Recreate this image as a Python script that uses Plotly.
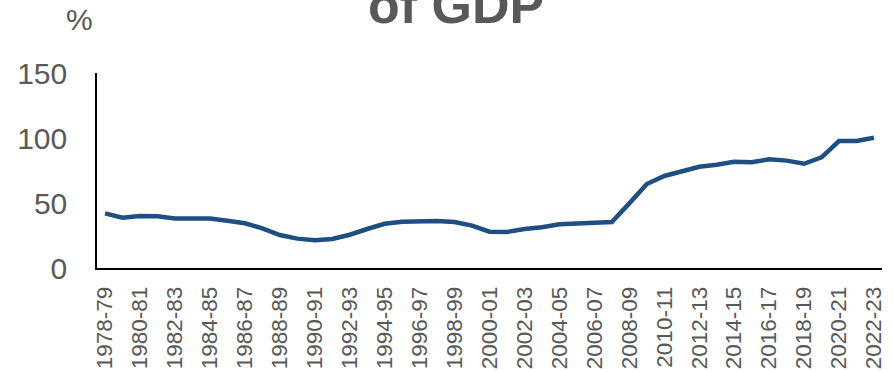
import plotly.graph_objects as go

# Financial years 1978-79 .. 2022-23
years = [f"{y}-{str(y + 1)[-2:]}" for y in range(1978, 2023)]

# Share of GDP, per cent
values = [
    42.0, 38.7, 40.0, 39.8, 38.0, 38.2, 38.0, 36.4, 34.4, 30.5,
    25.4, 22.6, 21.3, 22.3, 25.6, 30.0, 34.0, 35.6, 36.2, 36.2,
    35.4, 32.6, 27.9, 27.7, 30.0, 31.3, 33.6, 34.1, 34.6, 35.4,
    49.7, 64.6, 70.8, 74.1, 77.9, 79.5, 81.8, 81.3, 83.6, 82.6,
    80.2, 85.1, 97.7, 97.7, 100.2,
]

y_ticks = [0, 50, 100, 150]
x_ticks = years[::2]

grey = "#595959"
font_family = "Liberation Sans, Arial, sans-serif"

fig = go.Figure()
fig.add_trace(go.Scatter(
    x=years, y=values, mode="lines",
    line=dict(color="#1F4E82", width=4.5),
    hoverinfo="skip",
))

fig.update_layout(
    width=893, height=372,
    margin=dict(l=97, r=11, t=73, b=104),
    paper_bgcolor="white", plot_bgcolor="white",
    showlegend=False,
    font=dict(family=font_family, color=grey),
    xaxis=dict(
        type="category",
        range=[-0.46, 44.46],
        tickmode="array", tickvals=x_ticks, ticktext=x_ticks,
        tickangle=-90,
        tickfont=dict(size=22.5, color=grey),
        showgrid=False, zeroline=False,
        showline=True, linecolor="black", linewidth=1.5,
        ticks="", ticklabelstandoff=8,
        automargin=False,
    ),
    yaxis=dict(
        range=[0, 150],
        tickmode="array", tickvals=y_ticks,
        tickfont=dict(size=30, color=grey),
        showgrid=False, zeroline=False,
        showline=True, linecolor="black", linewidth=1.5,
        ticks="", ticklabelstandoff=22,
        automargin=False,
    ),
    annotations=[
        dict(text="<b>of GDP</b>", xref="paper", yref="paper",
             x=0.457, y=1.348, xanchor="center", yanchor="middle",
             showarrow=False,
             font=dict(size=52, color=grey, family=font_family)),
        dict(text="%", xref="paper", yref="paper",
             x=-0.0217, y=1.272, xanchor="center", yanchor="middle",
             showarrow=False, font=dict(size=30, color=grey)),
    ],
)

fig.write_html("out.html")
